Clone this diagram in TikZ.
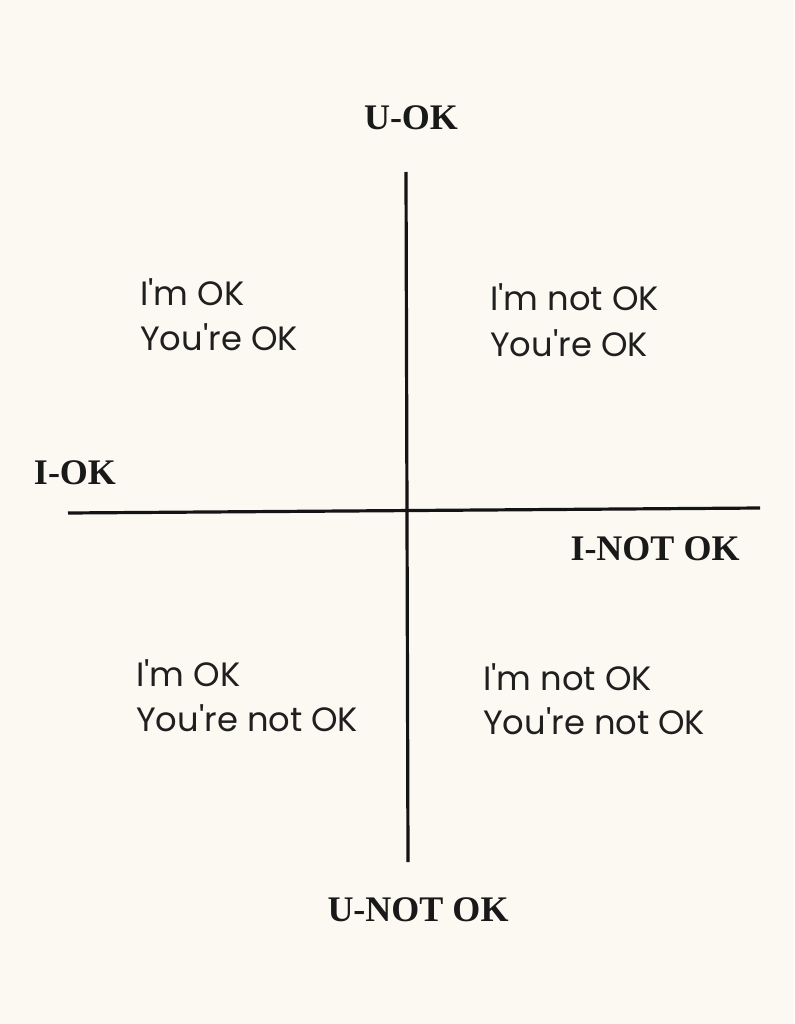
\documentclass[tikz,border=0pt]{standalone}
\usepackage{fontspec}
\setmainfont{Liberation Serif}
\newfontfamily\quadfont{Poppins}
\begin{document}
\begin{tikzpicture}[x=0.75pt,y=-0.75pt,
  axis/.style={line width=2.4pt,draw=black!92},
  axlabel/.style={font=\fontsize{27}{32}\selectfont\bfseries,inner sep=0pt,text=black!90},
  quad/.style={font=\quadfont\fontsize{25.3}{34}\selectfont,inner sep=0pt,anchor=base west,text=black!88}]
\fill[fill={rgb,255:red,251;green,249;blue,242}] (0,0) rectangle (794,1024);
\useasboundingbox (0,0) rectangle (794,1024);
\coordinate (vt) at (406,172);
\coordinate (vb) at (408,862);
\coordinate (hl) at (68,513);
\coordinate (hr) at (760,508);
\draw[axis] (vt) -- (vb);
\draw[axis] (hl) -- (hr);
\node[axlabel] (uok) at (411,118) {U-OK};
\node[axlabel] (iok) at (75,473) {I-OK};
\node[axlabel] (inok) at (655,549) {I-NOT OK};
\node[axlabel] (unok) at (418,910) {U-NOT OK};
\node[quad] (tl1) at (140,305) {I'm OK};
\node[quad] (tl2) at (140,350) {You're OK};
\node[quad] (tr1) at (490,310) {I'm not OK};
\node[quad] (tr2) at (490,356) {You're OK};
\node[quad] (bl1) at (136,686) {I'm OK};
\node[quad] (bl2) at (136,731) {You're not OK};
\node[quad] (br1) at (483,690) {I'm not OK};
\node[quad] (br2) at (483,734) {You're not OK};
\end{tikzpicture}
\end{document}
